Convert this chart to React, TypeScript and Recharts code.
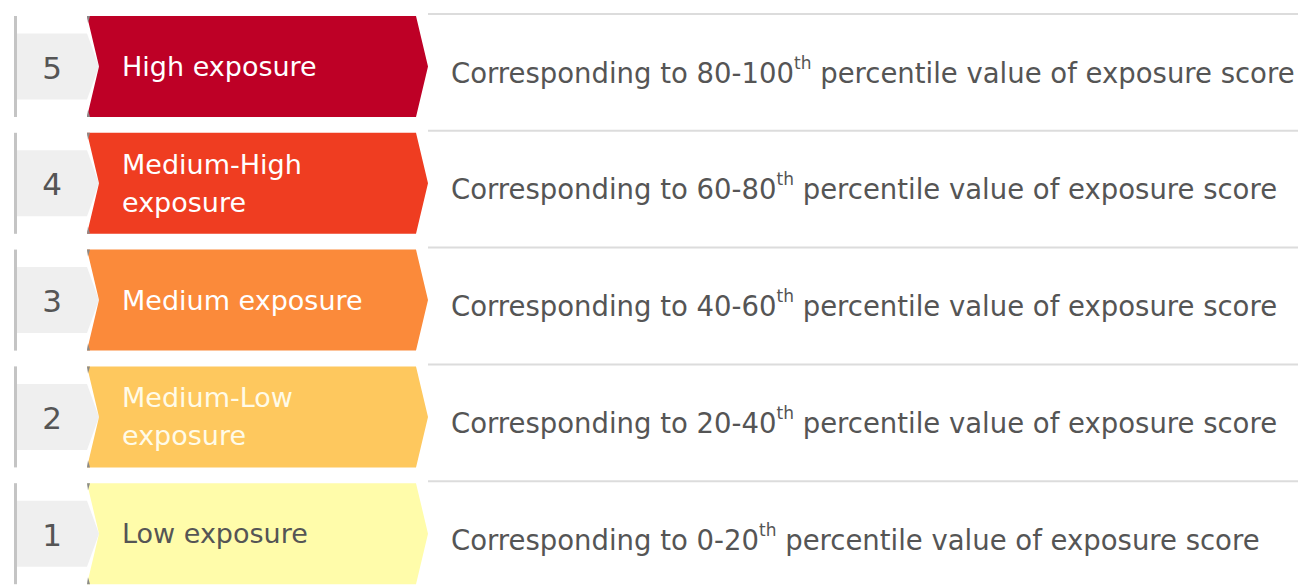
import { BarChart, Bar, XAxis, YAxis } from "recharts";

// exposure levels, top to bottom
const levels = [5, 4, 3, 2, 1];
const levelNames = [
  ["High exposure"],
  ["Medium-High", "exposure"],
  ["Medium exposure"],
  ["Medium-Low", "exposure"],
  ["Low exposure"],
];
const lowerPct = [80, 60, 40, 20, 0];
const upperPct = [100, 80, 60, 40, 20];

const FILLS = ["#BE0026", "#EF3D21", "#FB8A3A", "#FEC85E", "#FFFCAA"];
const LABEL_COLORS = ["#fff", "#fff", "#fff", "#fffbe8", "#555"];
const FONT = "'DejaVu Sans', Verdana, sans-serif";

const rows = levels.map((level, i) => ({
  level,
  name: levelNames[i],
  lower: lowerPct[i],
  upper: upperPct[i],
}));

function ExposureRow(props: any) {
  const { x, y, width, height, payload, index } = props;
  const top = y;
  const bottom = y + height;
  const cy = y + height / 2;
  const right = x + width;
  const notch = 12;
  const tip = 12;
  const arrow = `${x},${top} ${right - tip},${top} ${right},${cy} ${right - tip},${bottom} ${x},${bottom} ${x + notch},${cy}`;
  const box = `${x - 70},${cy - 33} ${x},${cy - 33} ${x + notch},${cy} ${x},${cy + 33} ${x - 70},${cy + 33}`;
  const lines: string[] = payload.name;
  const lineGap = 38;
  return (
    <g>
      <line x1={right} x2={right + 900} y1={top - 2} y2={top - 2} stroke="#dcdcdc" strokeWidth={2} />
      <rect x={x - 73} y={top} width={3} height={height} fill="#c4c4c4" />
      <polygon points={box} fill="#efefef" />
      <polygon points={arrow} fill={FILLS[index]} />
      <polygon points={`${x},${top} ${x + 3},${top} ${x + 1},${top + 7}`} fill="#8a8a8a" />
      <polygon points={`${x},${bottom} ${x + 3},${bottom} ${x + 1},${bottom - 7}`} fill="#8a8a8a" />
      <text x={x - 35} y={cy + 1} textAnchor="middle" dominantBaseline="central" fontFamily={FONT} fontSize={31} fill="#555">
        {payload.level}
      </text>
      {lines.map((t, k) => (
        <text
          key={k}
          x={x + 35}
          y={cy + (k - (lines.length - 1) / 2) * lineGap}
          dominantBaseline="central"
          fontFamily={FONT}
          fontSize={27}
          fill={LABEL_COLORS[index]}
        >
          {t}
        </text>
      ))}
      <text x={x + 364} y={cy + 6} dominantBaseline="central" fontFamily={FONT} fontSize={27.5} fill="#555">
        {`Corresponding to ${payload.lower}-${payload.upper}`}
        <tspan dy={-10} fontSize={17}>th</tspan>
        <tspan dy={10}>{" percentile value of exposure score"}</tspan>
      </text>
    </g>
  );
}

export default function App() {
  return (
    <div style={{ position: "absolute", left: 0, top: 0, background: "#fff" }}>
      <BarChart
        layout="vertical"
        width={1298}
        height={592}
        data={rows}
        margin={{ top: 8, right: 870, bottom: 0, left: 87 }}
        barCategoryGap={8}
      >
        <XAxis type="number" domain={[0, 20]} hide />
        <YAxis type="category" dataKey="level" hide />
        <Bar
          dataKey={(d: any) => d.upper - d.lower}
          isAnimationActive={false}
          shape={ExposureRow}
        />
      </BarChart>
    </div>
  );
}
